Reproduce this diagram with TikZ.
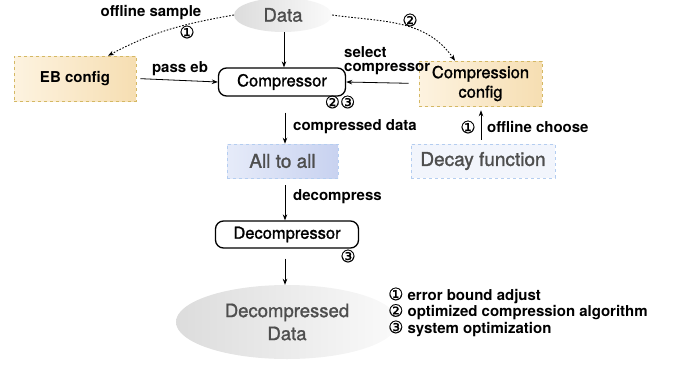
\documentclass[tikz,border=0pt]{standalone}
\usepackage{fontspec}
\setmainfont{TeX Gyre Heros}
\newfontfamily\circfont[FakeBold=0.5]{DejaVu Sans}
\newfontfamily\medfont[FakeBold=1.3]{TeX Gyre Heros}
\usetikzlibrary{shapes.geometric,arrows.meta}
\definecolor{txtgray}{RGB}{78,78,78}
\definecolor{orL}{RGB}{253,243,224}
\definecolor{orR}{RGB}{246,222,178}
\definecolor{orB}{RGB}{212,184,100}
\definecolor{blL}{RGB}{230,235,249}
\definecolor{blR}{RGB}{200,210,240}
\definecolor{blB}{RGB}{180,205,240}
\definecolor{elL}{RGB}{220,220,220}
\definecolor{elR}{RGB}{250,250,250}
\begin{document}
\begin{tikzpicture}[x=1pt,y=1pt,
  lbl/.style={font=\fontsize{15}{17}\selectfont\bfseries, inner sep=0pt},
  circ/.style={font=\circfont\fontsize{17}{18}\selectfont, inner sep=0pt},
  rbox/.style={draw=black, line width=1.3pt, rounded corners=8pt, inner sep=0pt, font=\medfont\fontsize{16.5}{19}\selectfont},
  cfgbox/.style={draw=orB, dashed, line width=0.6pt, inner sep=0pt, left color=orL, right color=orR},
  bluebox/.style={draw=blB, dashed, line width=0.6pt, inner sep=0pt, text=txtgray, font=\medfont\fontsize{19}{21}\selectfont},
  gellipse/.style={ellipse, inner sep=0pt, left color=elL, right color=elR, text=txtgray},
  arr/.style={-{Stealth[length=6pt,width=4.5pt]}, line width=0.8pt},
  dotarr/.style={-{Stealth[length=6pt,width=4.5pt]}, line width=0.9pt, dash pattern=on 1.6pt off 1.6pt}
]
\useasboundingbox (0,0) rectangle (683,-365);

% helper x positions
\coordinate (x108) at (108,0);
\coordinate (x455) at (455,0);
\coordinate (x284) at (284,0);
\coordinate (x285) at (285,0);
\coordinate (x481) at (481,0);

% nodes
\node[gellipse, minimum width=98pt, minimum height=34pt, font=\medfont\fontsize{18.5}{20}\selectfont] (data) at (283,-15) {Data};
\node[cfgbox, minimum width=122pt, minimum height=45pt, font=\fontsize{15}{17}\selectfont\bfseries] (eb) at (75,-78.5) {EB config};
\node[rbox, minimum width=127pt, minimum height=28pt] (comp) at (282,-82) {Compressor};
\node[cfgbox, minimum width=123pt, minimum height=45pt, align=center, font=\medfont\fontsize{16.5}{19.5}\selectfont] (cc) at (480.5,-83.5) {Compression\\config};
\node[bluebox, left color=blL, right color=blR, minimum width=111pt, minimum height=34pt] (a2a) at (282.5,-161) {All to all};
\node[bluebox, fill=blL!50, minimum width=144pt, minimum height=34pt] (decay) at (483,-161) {Decay function};
\node[rbox, minimum width=143pt, minimum height=27pt] (decomp) at (287,-234.5) {Decompressor};
\node[gellipse, minimum width=222pt, minimum height=74pt, align=center, font=\medfont\fontsize{18.5}{23}\selectfont] (dd) at (287,-322) {Decompressed\\Data};

% labels
\node[lbl] (offs) at (151,-13) {offline sample};
\node[circ] (c1a) at (187,-32) {①};
\node[circ] (c2a) at (410,-20) {②};
\node[lbl] (passeb) at (180,-69) {pass eb};
\node[lbl, anchor=west] (sel) at (344,-52) {select};
\node[lbl, anchor=west] (selc) at (344,-69) {compressor};
\node[circ] (c23) at (340,-102) {②③};
\node[circ] (c1b) at (468,-127) {①};
\node[lbl, anchor=west] (offc) at (487,-127) {offline choose};
\node[lbl, anchor=west] (cd) at (293,-127) {compressed data};
\node[lbl, anchor=west] (dc) at (293,-197) {decompress};
\node[circ] (c3) at (348,-256) {③};

\node[anchor=west, inner sep=0pt, align=left, font=\fontsize{15}{16.5}\selectfont\bfseries] (legend) at (388,-312)
  {{\circfont\mdseries\fontsize{17}{16.5}\selectfont ①} error bound adjust\\{\circfont\mdseries\fontsize{17}{16.5}\selectfont ②} optimized compression algorithm\\{\circfont\mdseries\fontsize{17}{16.5}\selectfont ③} system optimization};

% connectors
\draw[dotarr] (data.west) to[out=190,in=28] (eb.north -| x108);
\draw[dotarr] (data.east) to[out=-8,in=125] (cc.north -| x455);
\draw[arr] (data.south -| x284) -- (comp.north -| x284);
\draw[arr, shorten <=4pt] (eb.east) -- (comp.west);
\draw[arr, shorten <=10pt] (cc.west) -- (comp.east);
\draw[arr, shorten <=4pt, shorten >=4pt] (decay.north -| x481) -- (cc.south -| x481);
\draw[arr, shorten <=16pt] (comp.south -| x285) -- (a2a.north -| x285);
\draw[arr, shorten <=7pt] (a2a.south -| x285) -- (decomp.north -| x285);
\draw[arr, shorten <=10pt] (decomp.south -| x285) -- (dd.north -| x285);
\end{tikzpicture}
\end{document}
